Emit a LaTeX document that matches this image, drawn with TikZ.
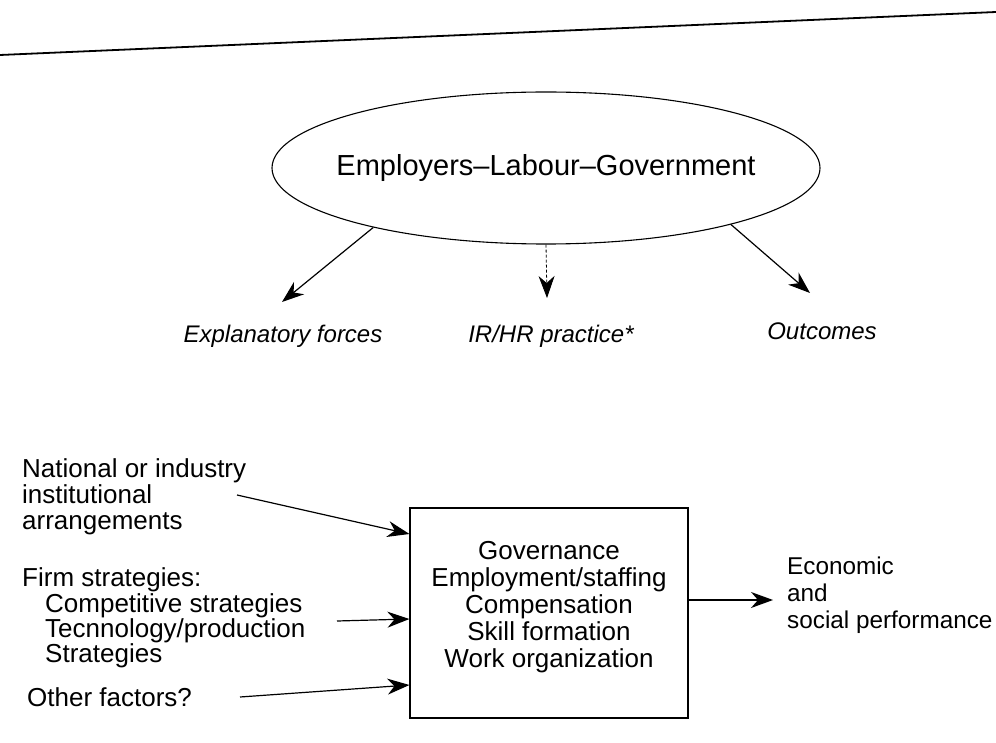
\documentclass[tikz,border=0pt]{standalone}
\usepackage{fontspec}
\setmainfont{Liberation Sans}
\usetikzlibrary{arrows.meta,shapes.geometric}
\begin{document}
\begin{tikzpicture}[x=1pt,y=-1pt,
  conn/.style={line width=1.2pt,-{Stealth[length=22pt,width=16pt,inset=7pt]}},
  dconn/.style={line width=0.8pt,dash pattern=on 3pt off 2pt,-{Stealth[length=22pt,width=16pt,inset=7pt]}},
  lbl/.style={font=\fontsize{24}{28}\selectfont\itshape, inner sep=0pt},
  txt/.style={font=\fontsize{26}{26}\selectfont, inner sep=0pt, anchor=base west},
  ecotxt/.style={font=\fontsize{24.3}{26}\selectfont, inner sep=0pt, anchor=base west},
]
\fill[white] (0,0) rectangle (996,743);
\useasboundingbox (0,0) rectangle (996,743);
% top rule
\coordinate (ruleL) at (0,55);
\coordinate (ruleR) at (996,12);
\draw[line width=1.8pt] (ruleL) -- (ruleR);
% ellipse
\node[ellipse, draw, line width=1.1pt, minimum width=548pt, minimum height=152pt, inner sep=0pt] (elg) at (546,168) {};
\node[font=\fontsize{29}{34}\selectfont, inner sep=0pt] (elgtxt) at (elg.center) {Employers–Labour–Government};
% labels
\node[lbl] (expl) at (283,336) {Explanatory forces};
\node[lbl] (irhr) at (551,336) {IR/HR practice*};
\node[lbl] (outc) at (822,331) {Outcomes};
\coordinate (tipL) at (282,302);
\coordinate (tipM) at (547,298);
\coordinate (tipR) at (810,293);
\draw[conn] (elg.199) -- (tipL);
\draw[dconn] (elg.270) -- (tipM);
\draw[conn] (elg.343) -- (tipR);
% left texts
\node[txt] (nat1) at (22,477) {National or industry};
\node[txt] (nat2) at (22,503) {institutional};
\node[txt] (nat3) at (22,529) {arrangements};
\node[txt] (firm1) at (22,586) {Firm strategies:};
\node[txt] (firm2) at (45,612) {Competitive strategies};
\node[txt] (firm3) at (45,637) {Tecnnology/production};
\node[txt] (firm4) at (45,662) {Strategies};
\node[txt] (oth) at (27,706) {Other factors?};
% box
\node[draw, line width=1.1pt, minimum width=278pt, minimum height=210pt, inner sep=0pt] (box) at (549,613) {};
\node[font=\fontsize{26}{27}\selectfont, align=center, inner sep=0pt] (boxtxt) at (549,607)
  {Governance\\Employment/staffing\\Compensation\\Skill formation\\Work organization};
\coordinate (natS) at (237,495);
\coordinate (compS) at (337,621);
\coordinate (othS) at (240,697);
\draw[conn] (natS) -- (box.west |- 0,534);
\draw[conn] (compS) -- (box.west |- 0,619);
\draw[conn] (othS) -- (box.west |- 0,685);
% output
\coordinate (outT) at (773,600);
\draw[conn] (box.east |- 0,600) -- (outT);
\node[ecotxt] (eco1) at (787,574) {Economic};
\node[ecotxt] (eco2) at (787,601) {and};
\node[ecotxt] (eco3) at (787,628) {social performance};
\end{tikzpicture}
\end{document}
